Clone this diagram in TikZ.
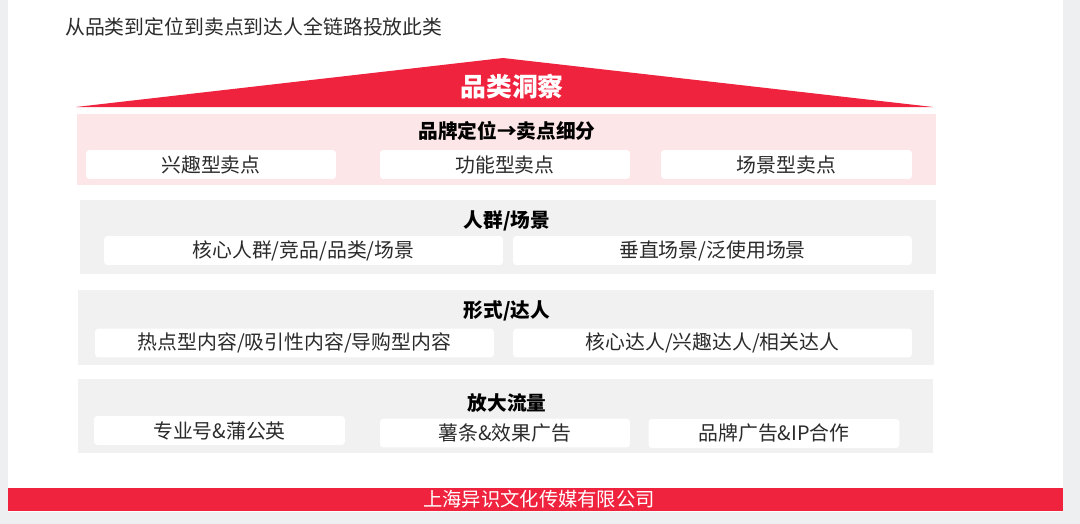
\documentclass[tikz,border=0pt]{standalone}
\usepackage{fontspec}
\usepackage{tikz}
\newfontfamily\cjk{Noto Sans CJK SC}
\definecolor{YSred}{HTML}{F0233F}
\definecolor{YSpink}{HTML}{FDE6E8}
\definecolor{YSgray}{HTML}{F1F1F1}
\definecolor{YSedge}{HTML}{EDEFF0}
\definecolor{YStext}{HTML}{2B2B2B}

\begin{document}
\begin{tikzpicture}[x=0.02cm,y=-0.02cm,
    band/.style={rectangle,inner sep=0pt,minimum height=1.48cm},
    bandtitle/.style={font=\cjk\bfseries\fontsize{11.2pt}{13pt}\selectfont,text=black},
    subbox/.style={rectangle,rounded corners=2pt,fill=white,inner sep=0pt,
      minimum height=0.58cm,font=\cjk\fontsize{11.3pt}{13pt}\selectfont,text=YStext}]
  \useasboundingbox (0,0) rectangle (1080,524);
  \fill[YSedge] (0,0) rectangle (1080,524);
  \fill[white] (8,0) rectangle (1063,512);

  \node[anchor=west,font=\cjk\fontsize{11.3pt}{13pt}\selectfont,text=YStext] (head) at (59,27) {从品类到定位到卖点到达人全链路投放此类};

  % roof
  \coordinate (roofL) at (76,107);
  \coordinate (roofT) at (503,58);
  \coordinate (roofR) at (933,107);
  \fill[YSred] (roofL) -- (roofT) -- (roofR) -- cycle;
  \node[font=\cjk\bfseries\fontsize{14.7pt}{16pt}\selectfont,text=white] (roof) at (512,87) {品类洞察};

  % layer 1
  \node[band,fill=YSpink,minimum width=17.18cm,minimum height=1.42cm] (b1) at (506.5,149.5) {};
  \node[bandtitle] (t1) at (507,131) {品牌定位→卖点细分};
  \node[subbox,minimum width=5cm] (s11) at (211,164.5) {兴趣型卖点};
  \node[subbox,minimum width=5cm] (s12) at (505,164.5) {功能型卖点};
  \node[subbox,minimum width=5.02cm] (s13) at (786.5,164.5) {场景型卖点};

  % layer 2
  \node[band,fill=YSgray,minimum width=17.12cm] (b2) at (508,237) {};
  \node[bandtitle] (t2) at (507,221) {人群/场景};
  \node[subbox,minimum width=7.98cm] (s21) at (303.5,250.5) {核心人群/竞品/品类/场景\hspace{0.8em}};
  \node[subbox,minimum width=7.98cm] (s22) at (712.5,250.5) {垂直场景/泛使用场景};

  % layer 3
  \node[band,fill=YSgray,minimum width=17.12cm,minimum height=1.5cm] (b3) at (506,327.5) {};
  \node[bandtitle] (t3) at (507,311) {形式/达人};
  \node[subbox,minimum width=7.98cm] (s31) at (294.5,343) {热点型内容/吸引性内容/导购型内容};
  \node[subbox,minimum width=7.98cm] (s32) at (712.5,343) {核心达人/兴趣达人/相关达人};

  % layer 4
  \node[band,fill=YSgray,minimum width=17.1cm] (b4) at (505.5,416) {};
  \node[bandtitle] (t4) at (507,403) {放大流量};
  \node[subbox,minimum width=5.02cm] (s41) at (219.5,430.5) {专业号\&蒲公英};
  \node[subbox,minimum width=5cm] (s42) at (505,433) {薯条\&效果广告};
  \node[subbox,minimum width=5.02cm] (s43) at (774,433.5) {品牌广告\&IP合作};

  % footer
  \fill[YSred] (8,488) rectangle (1063,511);
  \node[font=\cjk\fontsize{11pt}{12pt}\selectfont,text=white] (foot) at (539,499.5) {上海异识文化传媒有限公司};
\end{tikzpicture}
\end{document}
